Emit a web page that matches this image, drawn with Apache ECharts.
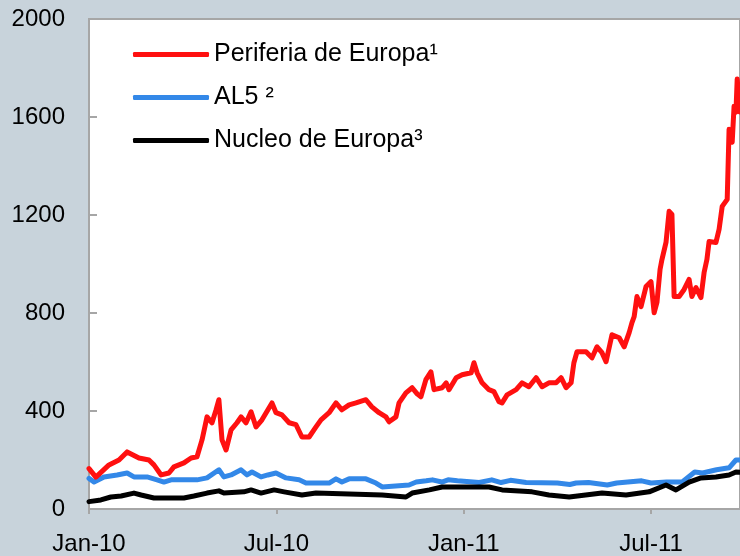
<!DOCTYPE html>
<html>
<head>
<meta charset="utf-8">
<script src="https://cdn.jsdelivr.net/npm/echarts@6/dist/echarts.min.js"></script>
<style>
  html, body { margin: 0; padding: 0; background: #c8d3db; }
  #chart { width: 740px; height: 556px; }
</style>
</head>
<body>
<div id="chart"></div>
<script>
// x values are months since Jan-10
let tickLabels = ['Jan-10', 'Jul-10', 'Jan-11', 'Jul-11'];
let seriesNames = ['Periferia de Europa¹', 'AL5 ²', 'Nucleo de Europa³'];

let periferiaX = [0, 0.06, 0.22, 0.64, 0.96, 1.22, 1.28, 1.60, 1.92, 2.08, 2.31, 2.56, 2.72, 3.04, 3.27, 3.46, 3.62, 3.78, 3.94, 4.07, 4.16, 4.26, 4.39, 4.55, 4.74, 4.87, 5.03, 5.19, 5.35, 5.54, 5.86, 5.99, 6.18, 6.41, 6.63, 6.82, 7.05, 7.27, 7.43, 7.69, 7.91, 8.10, 8.33, 8.55, 8.87, 9.06, 9.29, 9.51, 9.61, 9.83, 9.93, 10.15, 10.35, 10.51, 10.63, 10.79, 10.95, 11.05, 11.31, 11.44, 11.53, 11.76, 11.95, 12.24, 12.33, 12.43, 12.59, 12.81, 12.97, 13.13, 13.23, 13.39, 13.68, 13.87, 14.09, 14.32, 14.51, 14.73, 14.96, 15.12, 15.28, 15.44, 15.53, 15.63, 15.69, 15.92, 16.11, 16.27, 16.43, 16.56, 16.75, 16.98, 17.14, 17.30, 17.39, 17.46, 17.55, 17.68, 17.84, 18.00, 18.10, 18.19, 18.29, 18.35, 18.48, 18.58, 18.67, 18.74, 18.90, 19.06, 19.22, 19.31, 19.44, 19.60, 19.70, 19.79, 19.86, 20.08, 20.18, 20.28, 20.44, 20.50, 20.60, 20.66, 20.72, 20.76, 20.85];
let periferia = [165, 160, 130, 180, 200, 233, 240, 208, 200, 180, 139, 147, 172, 188, 208, 213, 282, 376, 352, 405, 446, 282, 241, 323, 352, 376, 352, 397, 335, 364, 433, 393, 384, 352, 344, 294, 294, 335, 364, 393, 433, 405, 425, 433, 446, 417, 393, 376, 356, 376, 433, 474, 495, 470, 458, 528, 560, 487, 495, 515, 487, 536, 548, 556, 597, 556, 515, 487, 479, 438, 433, 466, 487, 515, 499, 536, 499, 515, 515, 536, 495, 515, 597, 642, 650, 642, 617, 662, 638, 601, 711, 699, 662, 720, 761, 785, 867, 826, 908, 928, 801, 843, 978, 1018, 1088, 1215, 1202, 867, 867, 896, 937, 867, 904, 863, 965, 1018, 1092, 1088, 1141, 1235, 1264, 1550, 1497, 1644, 1620, 1755, 1620];

let al5X = [0, 0.06, 0.16, 0.48, 0.90, 1.22, 1.44, 1.86, 2.18, 2.40, 2.63, 3.46, 3.78, 4.16, 4.32, 4.55, 4.87, 5.06, 5.22, 5.51, 5.73, 5.99, 6.31, 6.73, 6.95, 7.69, 7.91, 8.10, 8.33, 8.87, 9.19, 9.39, 10.25, 10.48, 10.80, 11.00, 11.30, 11.50, 11.80, 12.50, 12.90, 13.20, 13.50, 14.00, 15.00, 15.40, 15.60, 16.00, 16.60, 16.90, 17.70, 18.00, 18.50, 19.00, 19.40, 19.65, 20.10, 20.50, 20.72, 20.85];
let al5 = [125, 120, 110, 131, 139, 147, 131, 131, 119, 110, 119, 119, 127, 160, 131, 139, 160, 139, 151, 131, 139, 147, 127, 119, 106, 106, 123, 110, 123, 123, 106, 90, 98, 110, 115, 119, 110, 119, 115, 108, 119, 108, 117, 108, 106, 100, 106, 108, 98, 106, 115, 106, 110, 110, 151, 147, 160, 168, 200, 200];

let nucleoX = [0, 0.06, 0.38, 0.70, 1.03, 1.44, 1.67, 2.08, 3.04, 3.36, 3.78, 4.16, 4.32, 4.96, 5.19, 5.51, 5.93, 6.25, 6.82, 7.27, 9.39, 10.15, 10.35, 10.90, 11.31, 12.81, 13.23, 14.19, 14.73, 15.38, 16.43, 17.20, 17.94, 18.48, 18.80, 19.22, 19.60, 20.08, 20.50, 20.72, 20.85];
let nucleo = [30, 29, 37, 49, 53, 65, 57, 45, 45, 53, 65, 74, 65, 70, 78, 65, 78, 70, 57, 65, 57, 49, 65, 78, 90, 90, 78, 70, 57, 49, 65, 57, 70, 98, 78, 110, 127, 131, 139, 151, 150];

function pairs(xs, ys) {
	let out = [];
	for (let i = 0; i < xs.length; i++) {
		out.push([xs[i], ys[i]]);
	}
	return out;
}

let myChart = echarts.init(document.getElementById('chart'));
let lineOf = function(name, color, xs, ys, z) {
	return {
		name : name,
		type : 'line',
		symbol : 'none',
		z : z,
		lineStyle : { color : color, width : 5, join : 'round', cap : 'round' },
		itemStyle : { color : color },
		data : pairs(xs, ys)
	};
};

let option = {
	backgroundColor : '#c8d3db',
	animation : false,
	textStyle : { fontFamily : 'Liberation Sans, Arial, sans-serif' },
	grid : {
		left : 89,
		right : 0,
		top : 19,
		bottom : 47,
		show : true,
		backgroundColor : '#ffffff',
		borderColor : '#a6a6a6',
		borderWidth : 2
	},
	legend : {
		orient : 'vertical',
		left : 128,
		top : 37,
		itemWidth : 76,
		itemHeight : 5,
		itemGap : 18,
		icon : 'roundRect',
		data : seriesNames,
		textStyle : { fontSize : 25, color : '#000', fontFamily : 'Liberation Sans, Arial, sans-serif' }
	},
	xAxis : {
		type : 'value',
		min : 0,
		max : 20.85,
		interval : 6,
		splitLine : { show : false },
		axisLine : { lineStyle : { color : '#a6a6a6', width : 2 } },
		axisTick : { show : true, length : 5, lineStyle : { color : '#a6a6a6', width : 2 } },
		axisLabel : {
			fontSize : 24,
			color : '#000',
			margin : 23,
			showMaxLabel : false,
			formatter : function(v) {
				let k = Math.round(v / 6);
				return (Math.abs(v - k * 6) < 0.01 && k < tickLabels.length) ? tickLabels[k] : '';
			}
		}
	},
	yAxis : {
		type : 'value',
		min : 0,
		max : 2000,
		interval : 400,
		splitLine : { show : false },
		axisLine : { show : true, lineStyle : { color : '#a6a6a6', width : 2 } },
		axisTick : { show : true, inside : true, length : 8, lineStyle : { color : '#a6a6a6', width : 2 } },
		axisLabel : {
			fontSize : 24,
			color : '#000',
			margin : 24,
			formatter : function(v) { return String(v); }
		}
	},
	series : [
		lineOf(seriesNames[1], '#3388e8', al5X, al5, 2),
		lineOf(seriesNames[2], '#000000', nucleoX, nucleo, 3),
		lineOf(seriesNames[0], '#ff1010', periferiaX, periferia, 4)
	]
};
myChart.setOption(option);
</script>
</body>
</html>
